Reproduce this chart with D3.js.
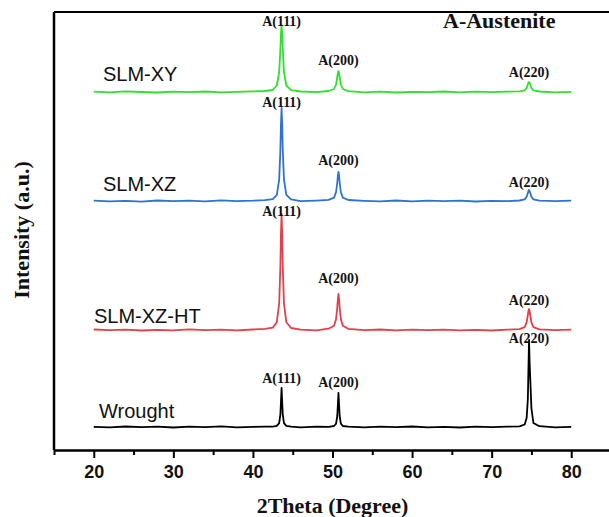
<!DOCTYPE html>
<html>
<head>
<meta charset="utf-8">
<script src="https://cdn.jsdelivr.net/npm/d3@7"></script>
<style>
    html, body { margin: 0; padding: 0; background: #fff; }
    #chartContainer { width: 609px; height: 517px; overflow: hidden; }
</style>
</head>
<body>
<div id="chartContainer"></div>
<script>
// 2Theta sample points (shared by every pattern)
const twoTheta = [
    20, 22, 24, 26, 28, 30, 32, 34, 36, 38, 40, 41.5,
    42.5, 43.0, 43.3, 43.45, 43.52, 43.6, 43.68, 43.75, 43.9, 44.2, 44.8,
    46, 48,
    49.5, 50.2, 50.45, 50.6, 50.68, 50.75, 50.82, 50.9, 51.05, 51.3, 52,
    54, 56, 58, 60, 62, 64, 66, 68, 70, 72,
    73.5, 74.15, 74.4, 74.55, 74.63, 74.7, 74.77, 74.85, 75.0, 75.25, 76,
    78, 80
];

// intensities (a.u.), above its own baseline
const slmXY = [
    4, -3, 6, 0, -5, 3, -2, 5, -4, 2, 6, 10,
    20, 65, 200, 430, 580, 670, 580, 430, 200, 65, 19,
    5, -2,
    10, 30, 75, 150, 190, 210, 190, 150, 75, 30, 9,
    -3, 4, -5, 2, -2, 5, -4, 3, -1, 4,
    7, 16, 40, 75, 92, 100, 92, 75, 40, 16, 5,
    -3, 2
];
const slmXZ = [
    3, -4, 2, -6, 5, -2, 4, -3, 6, -1, 3, 9,
    19, 62, 215, 510, 760, 930, 760, 510, 215, 62, 17,
    -2, 4,
    11, 34, 90, 185, 255, 290, 255, 185, 90, 34, 10,
    2, -4, 5, -3, 4, -2, 3, -5, 2, -1,
    5, 16, 42, 80, 100, 110, 100, 80, 42, 16, 3,
    -2, 4
];
const slmXZHT = [
    5, -2, 4, -5, 2, -3, 6, -1, 3, -4, 5, 11,
    24, 78, 265, 640, 950, 1160, 950, 640, 265, 78, 20,
    4, -3,
    13, 42, 110, 225, 315, 360, 315, 225, 110, 42, 11,
    -2, 5, -4, 3, -1, 4, -3, 2, -5, 3,
    9, 28, 76, 150, 190, 210, 190, 150, 76, 28, 6,
    -2, 3
];
const wrought = [
    2, -4, 5, -2, 3, -5, 4, -1, 6, -3, 2, 3,
    3, 11, 39, 125, 245, 390, 245, 125, 39, 11, 3,
    -4, 3,
    2, 10, 34, 110, 232, 340, 232, 110, 34, 10, 3,
    -3, 4, -2, 5, -4, 2, -5, 3, -2, 4,
    6, 25, 90, 280, 600, 870, 650, 490, 185, 40, 8,
    -3, 2
];

const seriesNames = ['SLM-XY', 'SLM-XZ', 'SLM-XZ-HT', 'Wrought'];
const seriesValues = [slmXY, slmXZ, slmXZHT, wrought];
const seriesOffsets = [3580, 2490, 1200, 230];
const seriesColors = ['#2fe02f', '#2f72d2', '#e2404a', '#000000'];

// peak annotations
const peakNames = ['A(111)', 'A(200)', 'A(220)'];
const peakPositions = [43.6, 50.75, 74.7];
const peakLabelLevels = [
    [660, 270, 150],
    [940, 360, 140],
    [1140, 470, 250],
    [440, 400, 840]
];

const majorTicks = [20, 30, 40, 50, 60, 70, 80];
const minorTicks = [15, 25, 35, 45, 55, 65, 75];

function renderPattern() {
    const width = 609;
    const height = 517;
    const plot = { left: 54, right: 611, top: 12, bottom: 450 };

    const svg = d3.select('#chartContainer')
                  .append('svg')
                  .attr('width', width)
                  .attr('height', height);

    const x = d3.scaleLinear()
                .domain([15, 85])
                .range([plot.left, plot.right]);

    const y = d3.scaleLinear()
                .domain([0, 4380])
                .range([plot.bottom, plot.top]);

    // frame: left and top edges (right edge is outside the picture)
    svg.append('line')
       .attr('x1', plot.left).attr('x2', plot.left)
       .attr('y1', plot.top).attr('y2', plot.bottom)
       .attr('stroke', '#000').attr('stroke-width', 2.5);
    svg.append('line')
       .attr('x1', plot.left).attr('x2', plot.right)
       .attr('y1', plot.top).attr('y2', plot.top)
       .attr('stroke', '#000').attr('stroke-width', 2);

    // minor ticks
    svg.append('g')
       .attr('transform', `translate(0,${plot.bottom})`)
       .call(d3.axisBottom(x).tickValues(minorTicks).tickSize(5).tickFormat(''))
       .call(g => g.select('.domain').remove())
       .call(g => g.selectAll('line').attr('stroke-width', 2));

    const xAxis = svg.append('g')
       .attr('transform', `translate(0,${plot.bottom})`)
       .call(d3.axisBottom(x).tickValues(majorTicks).tickSize(8).tickSizeOuter(0).tickPadding(7));

    xAxis.select('.domain').attr('stroke-width', 2.5);
    xAxis.selectAll('line').attr('stroke-width', 2);
    xAxis.selectAll('text')
         .attr('font-family', '"Liberation Sans", Arial, sans-serif')
         .attr('font-weight', 'bold')
         .attr('font-size', 18)
         .attr('fill', '#111');

    // patterns
    seriesValues.forEach((vals, i) => {
        const points = twoTheta.map((t, k) => ({ t, v: vals[k] + seriesOffsets[i] }));
        const line = d3.line()
                       .x(d => x(d.t))
                       .y(d => y(d.v));
        svg.append('path')
           .datum(points)
           .attr('d', line)
           .attr('fill', 'none')
           .attr('stroke', seriesColors[i])
           .attr('stroke-width', 1.8)
           .attr('stroke-linejoin', 'round');
    });

    // peak labels
    seriesValues.forEach((vals, i) => {
        peakNames.forEach((name, p) => {
            svg.append('text')
               .attr('x', x(peakPositions[p]))
               .attr('y', y(seriesOffsets[i] + peakLabelLevels[i][p]))
               .attr('text-anchor', 'middle')
               .attr('font-family', '"Liberation Serif", "Times New Roman", serif')
               .attr('font-weight', 'bold')
               .attr('font-size', 14)
               .attr('fill', '#111')
               .text(name);
        });
    });

    // series names, sitting just above each baseline
    const nameX = [103, 103, 94, 99];
    const nameGap = [11, 10, 7, 9];
    seriesNames.forEach((name, i) => {
        svg.append('text')
           .attr('x', nameX[i])
           .attr('y', y(seriesOffsets[i]) - nameGap[i])
           .attr('font-family', '"Liberation Sans", Arial, sans-serif')
           .attr('font-size', 20)
           .attr('fill', '#111')
           .text(name);
    });

    svg.append('text')
       .attr('x', 443)
       .attr('y', 28)
       .attr('font-family', '"Liberation Serif", "Times New Roman", serif')
       .attr('font-weight', 'bold')
       .attr('font-size', 22)
       .attr('fill', '#111')
       .text('A-Austenite');

    // axis titles
    svg.append('text')
       .attr('x', (plot.left + plot.right) / 2)
       .attr('y', 513)
       .attr('text-anchor', 'middle')
       .attr('font-family', '"Liberation Serif", "Times New Roman", serif')
       .attr('font-weight', 'bold')
       .attr('font-size', 22)
       .attr('fill', '#111')
       .text('2Theta (Degree)');

    svg.append('text')
       .attr('transform', 'translate(29,230) rotate(-90)')
       .attr('text-anchor', 'middle')
       .attr('font-family', '"Liberation Serif", "Times New Roman", serif')
       .attr('font-weight', 'bold')
       .attr('font-size', 22)
       .attr('fill', '#111')
       .text('Intensity (a.u.)');
}

renderPattern();
</script>
</body>
</html>
